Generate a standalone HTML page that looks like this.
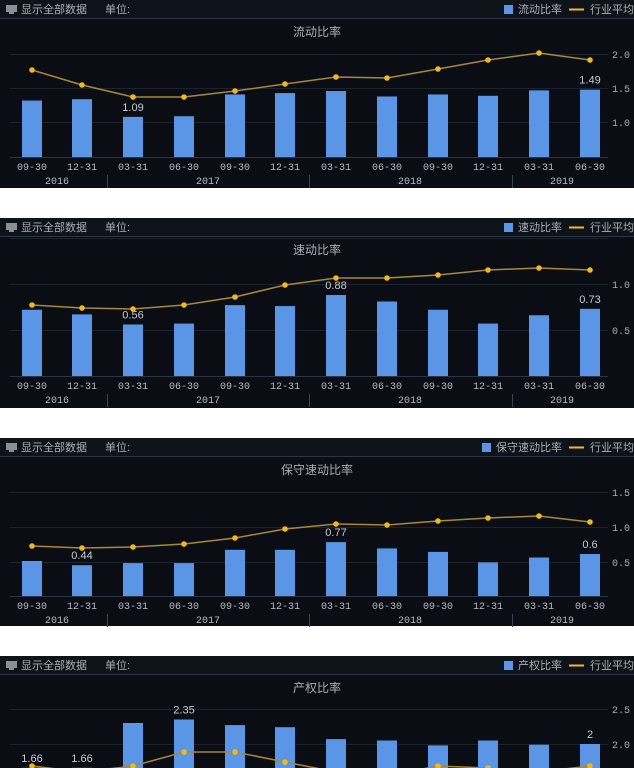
<!DOCTYPE html>
<html><head><meta charset="utf-8"><style>
body{margin:0;width:634px;height:768px;background:#fff;overflow:hidden;font-family:"Liberation Sans","Noto Sans CJK SC",sans-serif}
svg{position:absolute;left:0;top:0}
</style></head><body>
<svg id="s" width="634" height="768" xmlns="http://www.w3.org/2000/svg"></svg>
<script>
var xs=[32,82,133,184,235,285,336,387,438,488,539,590];
var dates=["09-30","12-31","03-31","06-30","09-30","12-31","03-31","06-30","09-30","12-31","03-31","06-30"];
var P=[
 {top:0,h:188,name:"流动比率",grid:[[2.0,54],[1.5,88],[1.0,122]],base:157,bv:0.5,ppu:68,
  vals:[1.33,1.35,1.09,1.10,1.42,1.44,1.47,1.39,1.42,1.40,1.48,1.49],
  line:[70,85,97,97,91,84,77,78,69,60,53,60],lab:{2:"1.09",11:"1.49"}},
 {top:218,h:190,name:"速动比率",grid:[[1.0,284],[0.5,330]],gl:[238],base:376,bv:0,ppu:92,
  vals:[0.72,0.67,0.56,0.57,0.77,0.76,0.88,0.81,0.72,0.57,0.66,0.73],
  line:[305,308,309,305,297,285,278,278,275,270,268,270],lab:{2:"0.56",6:"0.88",11:"0.73"}},
 {top:438,h:188,name:"保守速动比率",grid:[[1.5,492],[1.0,527],[0.5,562]],base:596,bv:0,ppu:70,
  vals:[0.5,0.44,0.47,0.47,0.66,0.66,0.77,0.68,0.63,0.48,0.55,0.6],
  line:[546,548,547,544,538,529,524,525,521,518,516,522],lab:{1:"0.44",6:"0.77",11:"0.6"}},
 {top:656,h:112,name:"产权比率",grid:[[2.5,709],[2.0,744]],base:884,bv:0,ppu:70,
  vals:[1.66,1.66,2.30,2.35,2.27,2.24,2.07,2.05,1.98,2.05,1.99,2.0],
  line:[766,772,766,752,752,762,772,776,766,768,772,766],lab:{0:"1.66",1:"1.66",3:"2.35",11:"2"}}
];
var legend=["流动比率","速动比率","保守速动比率","产权比率"];
var o='';
P.forEach(function(p,k){
 var t=p.top;
 o+='<rect x="0" y="'+t+'" width="634" height="'+p.h+'" fill="#0a0e14"/>';
 o+='<rect x="0" y="'+t+'" width="634" height="18" fill="#0e131a"/>';
 o+='<line x1="0" x2="634" y1="'+(t+18.5)+'" y2="'+(t+18.5)+'" stroke="#2b3642"/>';
 o+='<rect x="6" y="'+(t+5)+'" width="11" height="7" fill="#8a8f96"/><rect x="9" y="'+(t+12)+'" width="5" height="2" fill="#8a8f96"/>';
 o+='<text x="21" y="'+(t+13)+'" font-size="11" fill="#a9aeb5">显示全部数据</text>';
 o+='<text x="105" y="'+(t+13)+'" font-size="11" fill="#a9aeb5">单位:</text>';
 var lw=legend[k].length*11;
 var lx=562-lw-14;
 o+='<rect x="'+lx+'" y="'+(t+5)+'" width="9" height="9" fill="#5b96e6"/>';
 o+='<text x="'+(lx+14)+'" y="'+(t+13)+'" font-size="11" fill="#a9aeb5">'+legend[k]+'</text>';
 o+='<line x1="569" x2="584" y1="'+(t+9.5)+'" y2="'+(t+9.5)+'" stroke="#e8c020" stroke-width="2"/>';
 o+='<text x="590" y="'+(t+13)+'" font-size="11" fill="#a9aeb5">行业平均</text>';
 o+='<text x="317" y="'+(t+36)+'" font-size="12" fill="#a9aeb5" text-anchor="middle">'+p.name+'</text>';
 (p.gl||[]).forEach(function(y){o+='<line x1="10" x2="608" y1="'+(y+.5)+'" y2="'+(y+.5)+'" stroke="#1b232d"/>';});
 p.grid.forEach(function(g){
  o+='<line x1="10" x2="608" y1="'+(g[1]+.5)+'" y2="'+(g[1]+.5)+'" stroke="#1b232d"/>';
  o+='<text x="630" y="'+(g[1]+4)+'" font-size="10" fill="#a9aeb5" text-anchor="end" font-family="Liberation Mono,monospace">'+g[0].toFixed(1)+'</text>';
 });
 var bot=Math.min(p.base,768);
 p.vals.forEach(function(v,i){
  var y=p.base-(v-p.bv)*p.ppu;
  o+='<rect x="'+(xs[i]-10)+'" y="'+y+'" width="20" height="'+Math.max(0,bot-y)+'" fill="#5b96e6"/>';
  if(p.lab[i]) o+='<text x="'+xs[i]+'" y="'+(y-6)+'" font-size="11" fill="#c8ccd2" text-anchor="middle">'+p.lab[i]+'</text>';
 });
 var pts=p.line.map(function(y,i){return xs[i]+','+y}).join(' ');
 o+='<polyline points="'+pts+'" fill="none" stroke="#a8873a" stroke-width="1.5"/>';
 p.line.forEach(function(y,i){o+='<circle cx="'+xs[i]+'" cy="'+y+'" r="2.8" fill="#f0b820"/>';});
 if(p.base<768){
  o+='<line x1="10" x2="608" y1="'+(p.base+.5)+'" y2="'+(p.base+.5)+'" stroke="#2b3642"/>';
  dates.forEach(function(d,i){o+='<text x="'+xs[i]+'" y="'+(p.base+13)+'" font-size="10" fill="#b8bcc2" text-anchor="middle" font-family="Liberation Mono,monospace">'+d+'</text>';});
  [[57,"2016"],[208,"2017"],[410,"2018"],[562,"2019"]].forEach(function(a){o+='<text x="'+a[0]+'" y="'+(p.base+27)+'" font-size="10" fill="#b8bcc2" text-anchor="middle" font-family="Liberation Mono,monospace">'+a[1]+'</text>';});
  [107,309,512].forEach(function(x){o+='<line x1="'+x+'.5" x2="'+x+'.5" y1="'+(p.base+18)+'" y2="'+(p.base+31)+'" stroke="#3a4450"/>';});
 }
});
document.getElementById('s').innerHTML=o;
</script>
</body></html>
